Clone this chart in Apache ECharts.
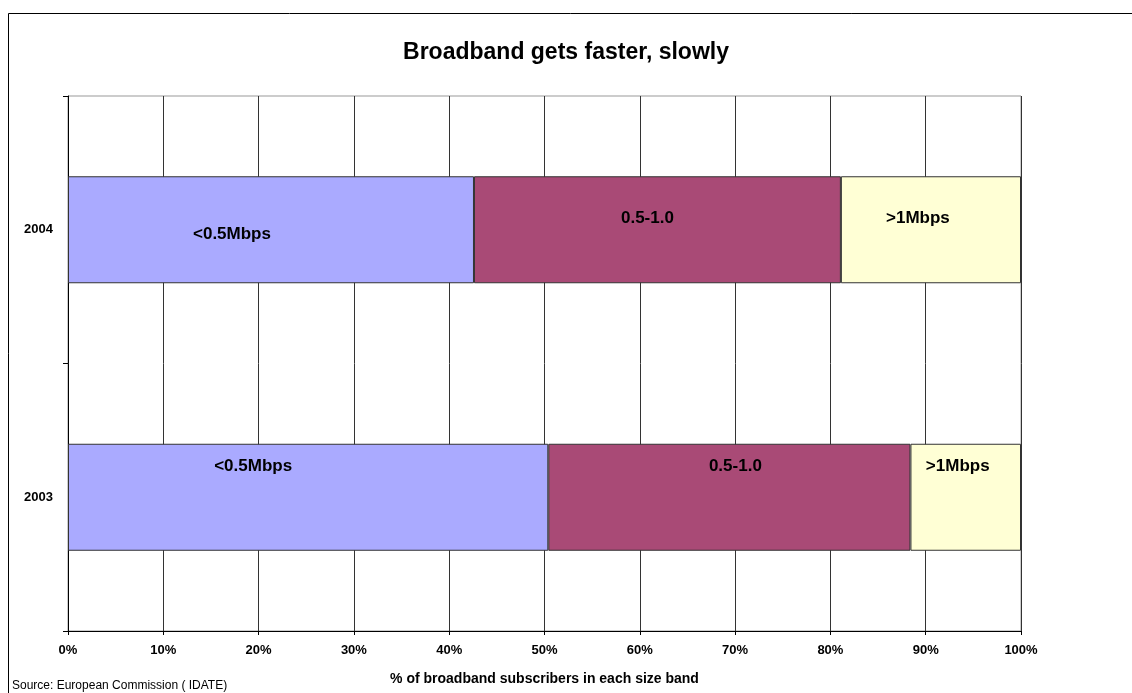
<!DOCTYPE html>
<html>
<head>
<meta charset="utf-8">
<script src="https://cdn.jsdelivr.net/npm/echarts@6/dist/echarts.min.js"></script>
<style>
html,body{margin:0;padding:0;background:#fff;}
#chart{width:1132px;height:693px;}
</style>
</head>
<body>
<div id="chart"></div>
<script>
const years = ['2003', '2004'];
const bandNames = ['<0.5Mbps', '0.5-1.0', '>1Mbps'];
const below05 = [50.4, 42.6];
const mid05to1 = [38.0, 38.5];
const above1 = [11.6, 18.9];
const xTicks = [0, 10, 20, 30, 40, 50, 60, 70, 80, 90, 100];

const colors = ['#AAAAFF', '#A94A76', '#FFFFD5'];
// label offsets per [series][category]
const labelOffsets = [
  [[-55, -31], [-39, 5]],
  [[6, -31], [-10, -11]],
  [[-8, -31], [-13, -11]]
];
const seriesValues = [below05, mid05to1, above1];

const font = '"Liberation Sans", Arial, sans-serif';

const chart = echarts.init(document.getElementById('chart'));
chart.setOption({
  backgroundColor: '#fff',
  animation: false,
  title: {
    text: 'Broadband gets faster, slowly',
    left: 'center',
    top: 36,
    textStyle: { fontFamily: font, fontWeight: 'bold', fontSize: 23, color: '#000' }
  },
  graphic: [
    { type: 'rect', shape: { x: 8.5, y: 13.5, width: 1130, height: 690 }, style: { fill: 'none', stroke: '#000', lineWidth: 1 }, z: 100 },
    { type: 'text', left: 12, top: 680, style: { text: 'Source: European Commission ( IDATE)', font: '12px ' + font, fill: '#000' } }
  ],
  grid: {
    left: 68, right: 111, top: 96, bottom: 62,
    show: true, borderColor: '#999', borderWidth: 1
  },
  xAxis: {
    type: 'value',
    min: 0, max: 100, interval: 10,
    name: '% of broadband subscribers in each size band',
    nameLocation: 'middle',
    nameGap: 41,
    nameTextStyle: { fontFamily: font, fontWeight: 'bold', fontSize: 14, color: '#000' },
    axisLine: { show: true, lineStyle: { color: '#000', width: 1 } },
    axisTick: { show: true, length: 4, lineStyle: { color: '#000' } },
    axisLabel: {
      fontFamily: font, fontWeight: 'bold', fontSize: 13, color: '#000', margin: 13,
      formatter: function (v) { return xTicks.indexOf(v) >= 0 ? v + '%' : ''; }
    },
    splitLine: { show: true, lineStyle: { color: '#333', width: 1 } }
  },
  yAxis: {
    type: 'category',
    data: years,
    axisLine: { show: true, lineStyle: { color: '#000', width: 1 } },
    axisTick: { show: true, length: 5, lineStyle: { color: '#000' } },
    axisLabel: { fontFamily: font, fontWeight: 'bold', fontSize: 13, color: '#000', margin: 15 },
    splitLine: { show: false }
  },
  series: seriesValues.map(function (vals, si) {
    return {
      type: 'bar',
      name: bandNames[si],
      stack: 'total',
      barCategoryGap: '60%',
      itemStyle: { color: colors[si], borderColor: '#333', borderWidth: 1 },
      data: vals.map(function (v, ci) {
        return {
          value: v,
          label: {
            show: true,
            position: 'inside',
            offset: labelOffsets[si][ci],
            formatter: bandNames[si],
            fontFamily: font, fontWeight: 'bold', fontSize: 17, color: '#000'
          }
        };
      })
    };
  })
});
</script>
</body>
</html>
